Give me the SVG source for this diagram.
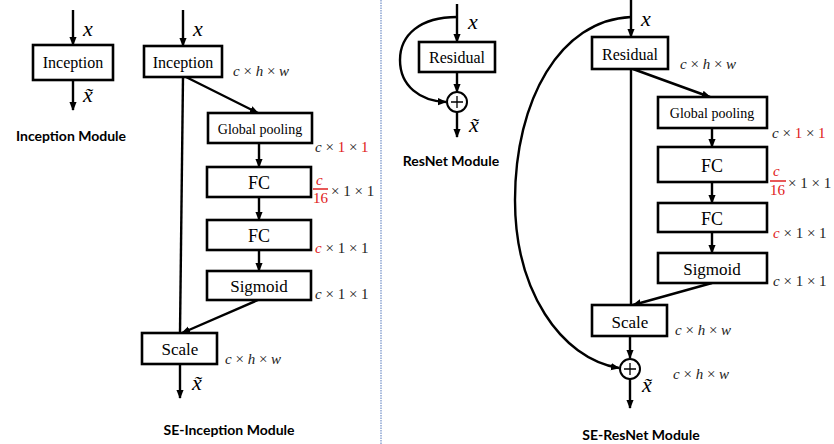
<svg xmlns="http://www.w3.org/2000/svg" width="834" height="444" viewBox="0 0 834 444">
<style>
.box{fill:#fff;stroke:#000;stroke-width:2.6}
.ln{fill:none;stroke:#000;stroke-width:2.4}
.nt{font-family:"Liberation Serif","Times New Roman",serif;text-anchor:middle;fill:#000}
.var{font-family:"Liberation Serif","Times New Roman",serif;font-style:italic;font-size:22px;fill:#000}
.dim{font-family:"Liberation Serif","Times New Roman",serif;font-size:15px;fill:#222}
.i{font-style:italic}
.r{fill:#e02020}
.title{font-family:Lato,"Open Sans",sans-serif;font-weight:bold;font-size:14px;text-anchor:middle;fill:#000}
</style>
<defs>
<marker id="ah" viewBox="0 0 10 10" refX="9" refY="5" markerWidth="9" markerHeight="9" markerUnits="userSpaceOnUse" orient="auto">
<path d="M0,1 L10,5 L0,9 z" fill="#000"/>
</marker>
</defs>
<rect width="834" height="444" fill="#fff"/>
<line x1="381" y1="0" x2="381" y2="444" stroke="#a9bbdd" stroke-width="2" stroke-dasharray="1.5 1"/>

<g id="connectors">
<line class="ln" x1="73" y1="10" x2="73" y2="45" marker-end="url(#ah)"/>
<line class="ln" x1="73" y1="80" x2="73" y2="110" marker-end="url(#ah)"/>
<line class="ln" x1="183" y1="10" x2="183" y2="46" marker-end="url(#ah)"/>
<line class="ln" x1="186" y1="77" x2="258" y2="113" marker-end="url(#ah)"/>
<line class="ln" x1="259" y1="143" x2="259" y2="167" marker-end="url(#ah)"/>
<line class="ln" x1="259" y1="197" x2="259" y2="220" marker-end="url(#ah)"/>
<line class="ln" x1="259" y1="250" x2="259" y2="271" marker-end="url(#ah)"/>
<line class="ln" x1="183" y1="77" x2="180" y2="333"/>
<line class="ln" x1="258" y1="300" x2="182" y2="333" marker-end="url(#ah)"/>
<line class="ln" x1="180" y1="364" x2="180" y2="398" marker-end="url(#ah)"/>
<line class="ln" x1="457" y1="4" x2="457" y2="42" marker-end="url(#ah)"/>
<line class="ln" x1="457" y1="72" x2="457" y2="92" marker-end="url(#ah)"/>
<path class="ln" d="M457 17 C420 17 400 35 400 60 C400 86 420 101 446 102" marker-end="url(#ah)"/>
<line class="ln" x1="457" y1="112" x2="457" y2="137" marker-end="url(#ah)"/>
<line class="ln" x1="631" y1="0" x2="631" y2="37" marker-end="url(#ah)"/>
<path class="ln" d="M631 17 C560 20 515 100 515 200 C515 290 560 358 619 368" marker-end="url(#ah)"/>
<line class="ln" x1="633" y1="69" x2="710" y2="97" marker-end="url(#ah)"/>
<line class="ln" x1="712" y1="128" x2="712" y2="147" marker-end="url(#ah)"/>
<line class="ln" x1="712" y1="182" x2="712" y2="203" marker-end="url(#ah)"/>
<line class="ln" x1="712" y1="232" x2="712" y2="253" marker-end="url(#ah)"/>
<line class="ln" x1="631" y1="69" x2="631" y2="305"/>
<line class="ln" x1="712" y1="283" x2="633" y2="305" marker-end="url(#ah)"/>
<line class="ln" x1="630" y1="336" x2="630" y2="358" marker-end="url(#ah)"/>
<line class="ln" x1="630" y1="379" x2="630" y2="408" marker-end="url(#ah)"/>
</g>

<g id="inception">
<rect class="box" x="33" y="45" width="80" height="35"/>
<text class="nt" x="73" y="68" font-size="16">Inception</text>
</g>
<text class="var" x="83" y="36">x</text>
<text class="var" x="83" y="102">x̃</text>
<text class="title" x="71" y="141">Inception Module</text>

<g id="se-inception">
<rect class="box" x="144" y="46" width="78" height="31"/>
<text class="nt" x="183" y="68" font-size="16">Inception</text>
</g>
<g id="se-inc-gp">
<rect class="box" x="208" y="113" width="104" height="30"/>
<text class="nt" x="260" y="134" font-size="14">Global pooling</text>
</g>
<g id="se-inc-fc1">
<rect class="box" x="207" y="167" width="104" height="30"/>
<text class="nt" x="259" y="189" font-size="18">FC</text>
</g>
<g id="se-inc-fc2">
<rect class="box" x="207" y="220" width="104" height="30"/>
<text class="nt" x="259" y="242" font-size="18">FC</text>
</g>
<g id="se-inc-sig">
<rect class="box" x="207" y="271" width="104" height="29"/>
<text class="nt" x="259" y="292" font-size="17">Sigmoid</text>
</g>
<g id="se-inc-scale">
<rect class="box" x="142" y="333" width="75" height="31"/>
<text class="nt" x="180" y="355" font-size="17">Scale</text>
</g>
<text class="var" x="193" y="36">x</text>
<text class="var" x="192" y="390">x̃</text>
<text class="dim" x="233" y="76"><tspan class="i">c</tspan> × <tspan class="i">h</tspan> × <tspan class="i">w</tspan></text>
<text class="dim" x="315" y="152"><tspan class="i">c</tspan> × <tspan class="r">1</tspan> × <tspan class="r">1</tspan></text>
<text class="dim r i" x="316" y="185">c</text>
<line x1="313" y1="189" x2="328" y2="189" stroke="#e02020" stroke-width="1.5"/>
<text class="dim r" x="313" y="203">16</text>
<text class="dim" x="331" y="196">× 1 × 1</text>
<text class="dim" x="315" y="253"><tspan class="i r">c</tspan> × 1 × 1</text>
<text class="dim" x="315" y="299"><tspan class="i">c</tspan> × 1 × 1</text>
<text class="dim" x="225" y="364"><tspan class="i">c</tspan> × <tspan class="i">h</tspan> × <tspan class="i">w</tspan></text>
<text class="title" x="229" y="435">SE-Inception Module</text>

<g id="resnet-residual">
<rect class="box" x="419" y="42" width="76" height="30"/>
<text class="nt" x="457" y="63" font-size="16">Residual</text>
</g>
<g id="resnet-add">
<circle cx="457" cy="102" r="10" fill="#fff" stroke="#000" stroke-width="2"/>
<path d="M451 102 H463 M457 96 V108" stroke="#000" stroke-width="1.3"/>
</g>
<text class="var" x="468" y="29">x</text>
<text class="var" x="469" y="132">x̃</text>
<text class="title" x="451" y="166">ResNet Module</text>

<g id="se-res-residual">
<rect class="box" x="592" y="37" width="76" height="32"/>
<text class="nt" x="630" y="60" font-size="16">Residual</text>
</g>
<g id="se-res-gp">
<rect class="box" x="658" y="97" width="109" height="31"/>
<text class="nt" x="712" y="118" font-size="14">Global pooling</text>
</g>
<g id="se-res-fc1">
<rect class="box" x="658" y="147" width="109" height="35"/>
<text class="nt" x="712" y="172" font-size="18">FC</text>
</g>
<g id="se-res-fc2">
<rect class="box" x="658" y="203" width="109" height="29"/>
<text class="nt" x="712" y="225" font-size="18">FC</text>
</g>
<g id="se-res-sig">
<rect class="box" x="658" y="253" width="109" height="30"/>
<text class="nt" x="712" y="275" font-size="17">Sigmoid</text>
</g>
<g id="se-res-scale">
<rect class="box" x="592" y="305" width="75" height="31"/>
<text class="nt" x="630" y="328" font-size="17">Scale</text>
</g>
<g id="se-res-add">
<circle cx="630" cy="369" r="10" fill="#fff" stroke="#000" stroke-width="2"/>
<path d="M624 369 H636 M630 363 V375" stroke="#000" stroke-width="1.3"/>
</g>
<text class="var" x="641" y="26">x</text>
<text class="var" x="642" y="392">x̃</text>
<text class="dim" x="680" y="69"><tspan class="i">c</tspan> × <tspan class="i">h</tspan> × <tspan class="i">w</tspan></text>
<text class="dim" x="772" y="138"><tspan class="i">c</tspan> × <tspan class="r">1</tspan> × <tspan class="r">1</tspan></text>
<text class="dim r i" x="773" y="176">c</text>
<line x1="770" y1="181" x2="786" y2="181" stroke="#e02020" stroke-width="1.5"/>
<text class="dim r" x="770" y="195">16</text>
<text class="dim" x="788" y="188">× 1 × 1</text>
<text class="dim" x="773" y="238"><tspan class="i r">c</tspan> × 1 × 1</text>
<text class="dim" x="773" y="286"><tspan class="i">c</tspan> × 1 × 1</text>
<text class="dim" x="675" y="335"><tspan class="i">c</tspan> × <tspan class="i">h</tspan> × <tspan class="i">w</tspan></text>
<text class="dim" x="673" y="379"><tspan class="i">c</tspan> × <tspan class="i">h</tspan> × <tspan class="i">w</tspan></text>
<text class="title" x="641" y="440">SE-ResNet Module</text>
</svg>
